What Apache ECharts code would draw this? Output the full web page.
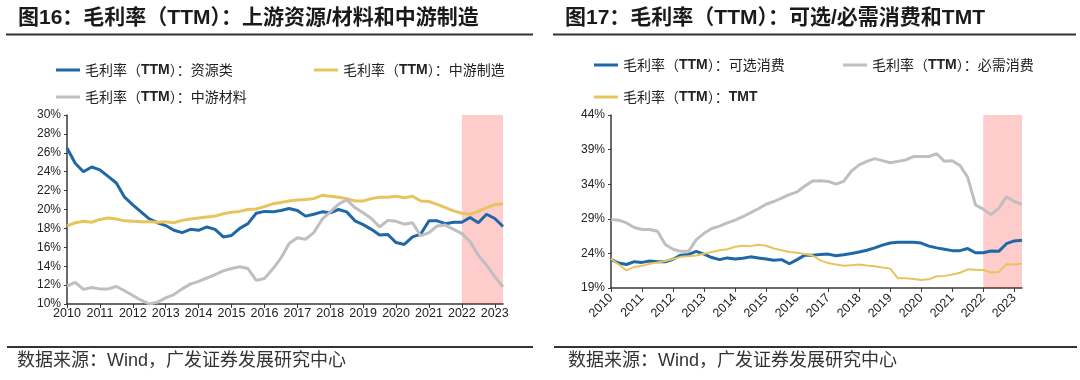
<!DOCTYPE html>
<html><head><meta charset="utf-8">
<script src="https://cdn.jsdelivr.net/npm/echarts@6/dist/echarts.min.js"></script>
<style>html,body{margin:0;padding:0;background:#fff}#c{width:1080px;height:380px}</style>
</head><body><div id="c"></div>
<script>
const categories = [
 '2010Q1','2010Q2','2010Q3','2010Q4','2011Q1','2011Q2','2011Q3','2011Q4',
 '2012Q1','2012Q2','2012Q3','2012Q4','2013Q1','2013Q2','2013Q3','2013Q4',
 '2014Q1','2014Q2','2014Q3','2014Q4','2015Q1','2015Q2','2015Q3','2015Q4',
 '2016Q1','2016Q2','2016Q3','2016Q4','2017Q1','2017Q2','2017Q3','2017Q4',
 '2018Q1','2018Q2','2018Q3','2018Q4','2019Q1','2019Q2','2019Q3','2019Q4',
 '2020Q1','2020Q2','2020Q3','2020Q4','2021Q1','2021Q2','2021Q3','2021Q4',
 '2022Q1','2022Q2','2022Q3','2022Q4','2023Q1','2023Q2'];

// 图16
const resourceGM = [26.5,24.9,24.0,24.5, 24.2,23.5,22.8,21.3, 20.5,19.75,19.0,18.6, 18.3,17.8,17.55,17.9,
 17.8,18.15,17.9,17.1, 17.25,18.0,18.5,19.6, 19.8,19.75,19.9,20.1, 19.9,19.3,19.5,19.75,
 19.65,20.0,19.75,18.8, 18.4,17.9,17.3,17.35, 16.5,16.3,17.1,17.4, 18.8,18.8,18.5,18.65,
 18.65,19.15,18.6,19.5, 19.05,18.2];
const manufactureGM = [18.27,18.6,18.75,18.65, 18.95,19.1,19.0,18.8, 18.75,18.7,18.7,18.65, 18.7,18.6,18.85,19.0,
 19.1,19.2,19.3,19.55, 19.7,19.8,20.0,20.05, 20.3,20.6,20.75,20.9, 21.0,21.05,21.15,21.5,
 21.4,21.3,21.15,20.9, 20.9,21.15,21.3,21.3, 21.4,21.25,21.4,20.9, 20.85,20.55,20.2,19.85,
 19.6,19.5,19.8,20.2, 20.5,20.6];
const materialGM = [11.9,12.3,11.55,11.75, 11.6,11.6,11.85,11.4, 10.9,10.4,10.0,10.2, 10.65,11.0,11.6,12.1,
 12.4,12.75,13.1,13.5, 13.75,13.95,13.75,12.5, 12.7,13.7,14.85,16.4, 17.0,16.85,17.55,18.95,
 19.75,20.55,21.05,20.2, 19.65,19.05,18.15,18.85, 18.75,18.45,18.6,17.2, 17.55,18.25,18.35,17.9,
 17.45,16.6,15.15,14.1, 12.9,11.8];

// 图17
const optionalGM = [23.15,22.6,22.4,22.8, 22.7,22.9,22.8,22.8, 23.15,23.75,23.85,24.3, 23.9,23.4,23.1,23.35,
 23.2,23.3,23.5,23.35, 23.2,23.0,23.1,22.5, 23.1,23.75,23.75,23.85, 23.9,23.65,23.8,24.0,
 24.2,24.45,24.8,25.2, 25.5,25.6,25.6,25.6, 25.5,25.05,24.8,24.6, 24.4,24.4,24.7,24.1,
 24.1,24.35,24.3,25.4, 25.8,25.9];
const necessaryGM = [28.9,28.8,28.4,27.75, 27.45,27.45,27.2,25.3, 24.6,24.3,24.3,26.0, 26.9,27.6,27.95,28.4,
 28.8,29.3,29.9,30.45, 31.1,31.5,32.0,32.5, 32.9,33.75,34.45,34.5, 34.4,34.0,34.4,35.9,
 36.8,37.3,37.7,37.4, 37.1,37.3,37.5,38.0, 38.0,38.0,38.4,37.3, 37.4,36.7,35.0,31.0,
 30.4,29.6,30.5,32.2, 31.5,31.1];
const tmtGM = [23.25,22.4,21.55,22.05, 22.2,22.5,22.7,22.9, 23.2,23.5,23.6,23.7, 23.95,24.2,24.45,24.6,
 24.95,25.1,25.05,25.25, 25.1,24.7,24.45,24.2, 24.1,23.9,23.7,23.0, 22.6,22.4,22.2,22.3,
 22.4,22.25,22.15,21.95, 21.8,20.4,20.4,20.3, 20.15,20.25,20.7,20.75, 20.95,21.2,21.7,21.65,
 21.6,21.25,21.3,22.45, 22.4,22.5];

const shadeStart = '2022Q1';
const shadeEnd = '2023Q2';

const names = {
  res: '毛利率（TTM）：资源类', man: '毛利率（TTM）：中游制造', mat: '毛利率（TTM）：中游材料',
  opt: '毛利率（TTM）：可选消费', nec: '毛利率（TTM）：必需消费', tmt: '毛利率（TTM）：TMT'
};
const titles = ['图16：毛利率（TTM）：上游资源/材料和中游制造', '图17：毛利率（TTM）：可选/必需消费和TMT'];
const source = '数据来源：Wind，广发证券发展研究中心';

const BLUE = '#1f67a6', YELLOW = '#e8c45f', GRAY = '#bfbfbf';
const AX = '#3a3a3a';
const latin = 'Arial, "Liberation Sans", sans-serif';
const mixed = '"Liberation Sans", "Noto Sans CJK SC", sans-serif';

function xAxisCfg(gi, rotate) {
  return {
    type: 'category', gridIndex: gi, data: categories, boundaryGap: false,
    axisLine: { lineStyle: { color: AX, width: 1.5 } },
    axisTick: { show: true, interval: 3, length: 4, lineStyle: { color: AX } },
    axisLabel: { interval: 3, rotate: rotate, margin: rotate ? 8 : 3, color: '#222', fontSize: 12.5, fontFamily: latin,
      formatter: v => v.slice(0, 4) },
    splitLine: { show: false }
  };
}
function yAxisCfg(gi, min, max, interval) {
  return {
    type: 'value', gridIndex: gi, min: min, max: max, interval: interval,
    axisLine: { show: true, lineStyle: { color: AX, width: 1.5 } },
    axisTick: { show: true, length: 3, lineStyle: { color: AX } },
    axisLabel: { formatter: '{value}%', color: '#222', fontSize: 12, fontFamily: latin, margin: 6 },
    splitLine: { show: false }
  };
}
function line(name, data, color, xi, width) {
  return { name: name, type: 'line', xAxisIndex: xi, yAxisIndex: xi, data: data, showSymbol: false,
    lineStyle: { color: color, width: width }, itemStyle: { color: color }, z: 2 };
}
function shade(xi) {
  return { type: 'line', xAxisIndex: xi, yAxisIndex: xi, data: [], z: 10, silent: true,
    markArea: { silent: true, itemStyle: { color: 'rgba(255,0,0,0.2)' },
      data: [[{ xAxis: shadeStart, yAxis: 'max' }, { xAxis: shadeEnd, yAxis: 'min' }]] } };
}
const legendText = { fontSize: 14, color: '#222', fontFamily: '"Noto Sans CJK SC", sans-serif',
  rich: { b: { fontSize: 14, fontWeight: 'bold', color: '#222', fontFamily: latin } } };
function legend(name, left, top) {
  return { data: [name], left: left, top: top, itemWidth: 24, itemHeight: 3, itemGap: 0,
    icon: 'rect', textStyle: legendText, padding: 0,
    formatter: n => n.replace(/(TTM|TMT)/g, '{b|$1}') };
}

const chart = echarts.init(document.getElementById('c'), null, { renderer: 'canvas' });
chart.setOption({
  animation: false,
  backgroundColor: '#fff',
  title: [
    { text: titles[0], left: 18, top: 8, padding: 0, textStyle: { fontSize: 21, fontWeight: 'bold', color: '#1a1a1a', fontFamily: mixed } },
    { text: titles[1], left: 565, top: 8, padding: 0, textStyle: { fontSize: 21, fontWeight: 'bold', color: '#1a1a1a', fontFamily: mixed } }
  ],
  legend: [
    legend(names.res, 56, 63), legend(names.man, 314, 63), legend(names.mat, 56, 90),
    legend(names.opt, 594, 58), legend(names.nec, 843, 58), legend(names.tmt, 594, 90)
  ],
  grid: [
    { left: 67, top: 115, width: 436, height: 189 },
    { left: 611, top: 115, width: 411, height: 173 }
  ],
  xAxis: [xAxisCfg(0, 0), xAxisCfg(1, 45)],
  yAxis: [yAxisCfg(0, 10, 30, 2), yAxisCfg(1, 19, 44, 5)],
  series: [
    line(names.res, resourceGM, BLUE, 0, 3),
    line(names.man, manufactureGM, YELLOW, 0, 3),
    line(names.mat, materialGM, GRAY, 0, 3),
    shade(0),
    line(names.opt, optionalGM, BLUE, 1, 3),
    line(names.nec, necessaryGM, GRAY, 1, 3),
    line(names.tmt, tmtGM, YELLOW, 1, 2),
    shade(1)
  ],
  graphic: [
    { type: 'line', shape: { x1: 6, y1: 34.5, x2: 533, y2: 34.5 }, style: { stroke: '#333', lineWidth: 2 } },
    { type: 'line', shape: { x1: 553, y1: 34.5, x2: 1076, y2: 34.5 }, style: { stroke: '#333', lineWidth: 2 } },
    { type: 'line', shape: { x1: 7, y1: 347, x2: 533, y2: 347 }, style: { stroke: '#333', lineWidth: 2 } },
    { type: 'line', shape: { x1: 554, y1: 347, x2: 1077, y2: 347 }, style: { stroke: '#333', lineWidth: 2 } },
    { type: 'text', left: 17, top: 352, style: { text: source, fontSize: 18, fill: '#333', fontFamily: mixed } },
    { type: 'text', left: 568, top: 352, style: { text: source, fontSize: 18, fill: '#333', fontFamily: mixed } }
  ]
});
</script></body></html>
